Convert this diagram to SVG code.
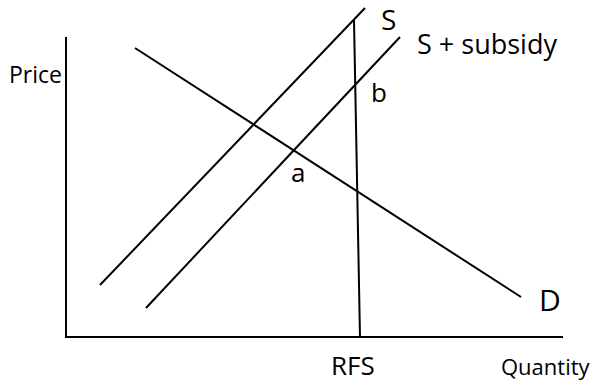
<svg xmlns="http://www.w3.org/2000/svg" width="596" height="383" viewBox="0 0 596 383">
<style>
.ln{stroke:#000;stroke-width:2;fill:none;stroke-linecap:butt}
.t{font-family:"Open Sans","Liberation Sans",sans-serif;fill:#000}
</style>
<rect width="596" height="383" fill="#fff"/>
<g id="connectors">
<line id="y-axis" class="ln" x1="66" y1="37" x2="66" y2="338" stroke-width="2.5"/>
<line id="x-axis" class="ln" x1="65" y1="337" x2="563" y2="337" stroke-width="2.5"/>
<line id="S" class="ln" x1="100" y1="285" x2="365" y2="8"/>
<line id="S-subsidy" class="ln" x1="146" y1="308" x2="400" y2="37"/>
<line id="D" class="ln" x1="135" y1="48" x2="521" y2="297"/>
<line id="RFS" class="ln" x1="354" y1="20" x2="360" y2="337"/>
</g>
<g id="labels">
<text class="t" x="9" y="83" font-size="23">Price</text>
<text class="t" x="381" y="30" font-size="28">S</text>
<text class="t" x="417" y="54" font-size="27">S + subsidy</text>
<text class="t" x="371" y="102" font-size="26">b</text>
<text class="t" x="291" y="182" font-size="26">a</text>
<text class="t" x="539" y="311" font-size="30">D</text>
<text class="t" x="331" y="375" font-size="26">RFS</text>
<text class="t" x="501" y="375" font-size="22">Quantity</text>
</g>
</svg>
